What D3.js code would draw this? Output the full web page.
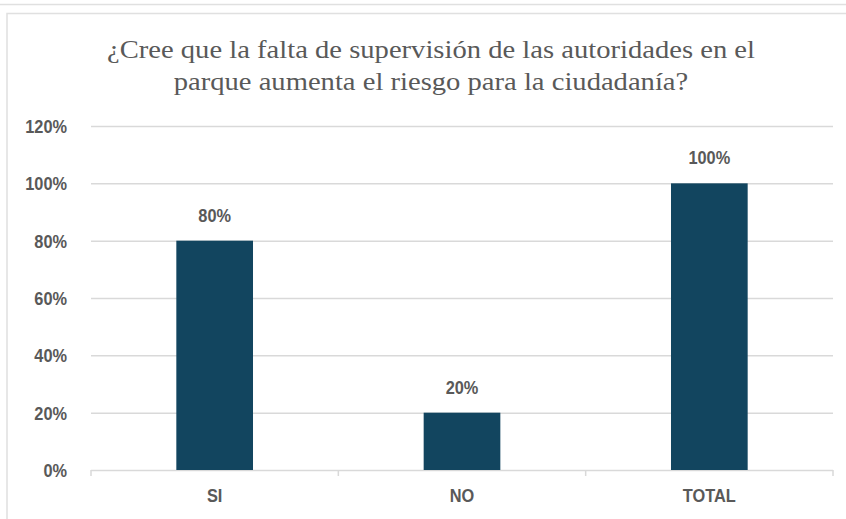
<!DOCTYPE html>
<html>
<head>
<meta charset="utf-8">
<script src="https://cdn.jsdelivr.net/npm/d3@7"></script>
<style>
  body { margin: 0; background: #fff; }
  svg { display: block; }
  .titulo { font-family: "Liberation Serif", "DejaVu Serif", "Times New Roman", Times, serif; }
</style>
</head>
<body>
<svg id="chart" width="846" height="519"></svg>
<script>
// datos
var categorias = ["SI", "NO", "TOTAL"];
var valores = [0.80, 0.20, 1.00];
var ticksY = [0, 0.2, 0.4, 0.6, 0.8, 1.0, 1.2];
var titulo = ["¿Cree que la falta de supervisión de las autoridades en el",
              "parque aumenta el riesgo para la ciudadanía?"];

var svg = d3.select("#chart");
var gris = "#595959", linea = "#d9d9d9", barra = "#12455f";
var fuente = "Liberation Sans, Arial, sans-serif";

// ajustar ancho del texto (la fuente original es tipo Arial Narrow)
function ajusta(f) {
  return function(sel) {
    sel.each(function() {
      var w = this.getComputedTextLength();
      d3.select(this).attr("textLength", w * f).attr("lengthAdjust", "spacingAndGlyphs");
    });
  };
}

// marcos
svg.append("rect").attr("x", -5).attr("y", -10).attr("width", 860).attr("height", 14.5)
  .attr("fill", "none").attr("stroke", "#e0e0e0").attr("stroke-width", 1.5);
svg.append("rect").attr("x", 7).attr("y", 13.5).attr("width", 850).attr("height", 520)
  .attr("fill", "#fff").attr("stroke", "#e0e0e0").attr("stroke-width", 1.5);

var margin = {top: 126, left: 91, right: 13, bottom: 49},
    width = 846 - margin.left - margin.right,
    height = 519 - margin.top - margin.bottom;
var g = svg.append("g").attr("transform", "translate(" + margin.left + "," + margin.top + ")");

var x = d3.scaleBand().domain(categorias).range([0, width]).paddingInner(0.69).paddingOuter(0.345);
var y = d3.scaleLinear().domain([0, 1.2]).range([height, 0]);

// titulo
svg.append("g").selectAll("text").data(titulo).enter().append("text")
  .attr("class", "titulo")
  .attr("x", 431).attr("y", function(d, i) { return 58 + i * 32; })
  .attr("text-anchor", "middle")
  .attr("font-size", 26).attr("fill", gris)
  .text(function(d) { return d; })
  .call(ajusta(1.1));

// eje y con rejilla
var yAxis = d3.axisLeft(y).tickValues(ticksY).tickSize(-width).tickPadding(24)
  .tickFormat(d3.format(".0%"));
g.append("g").call(yAxis).call(function(a) {
  a.select(".domain").remove();
  a.selectAll(".tick line").attr("stroke", linea).attr("stroke-width", 1.5);
  a.selectAll(".tick text").attr("fill", gris).attr("font-family", fuente)
    .attr("font-weight", "bold").attr("font-size", 19).attr("dy", "0.35em")
    .call(ajusta(0.86));
});

// eje x
var xAxis = d3.axisBottom(x).tickSize(0).tickPadding(19);
g.append("g").attr("transform", "translate(0," + height + ")").call(xAxis).call(function(a) {
  a.select(".domain").remove();
  a.selectAll(".tick text").attr("fill", gris).attr("font-family", fuente)
    .attr("font-weight", "bold").attr("font-size", 19).attr("dy", "0.71em")
    .call(ajusta(0.86));
});
// separadores del eje x
var bordes = [0].concat(categorias.map(function(c) { return x(c) + x.bandwidth() + x.step() * 0.345; }));
g.append("g").selectAll("line").data(bordes).enter().append("line")
  .attr("x1", function(d) { return d; }).attr("x2", function(d) { return d; })
  .attr("y1", height).attr("y2", height + 6)
  .attr("stroke", linea).attr("stroke-width", 1.5);

// barras
g.selectAll(".bar").data(valores).enter().append("rect")
  .attr("class", "bar")
  .attr("x", function(d, i) { return x(categorias[i]); })
  .attr("y", function(d) { return y(d); })
  .attr("width", x.bandwidth())
  .attr("height", function(d) { return height - y(d); })
  .attr("fill", barra);

// etiquetas de datos
g.selectAll(".lbl").data(valores).enter().append("text")
  .attr("class", "lbl")
  .attr("x", function(d, i) { return x(categorias[i]) + x.bandwidth() / 2; })
  .attr("y", function(d) { return y(d) - 19; })
  .attr("text-anchor", "middle")
  .attr("font-family", fuente).attr("font-weight", "bold").attr("font-size", 19)
  .attr("fill", gris)
  .text(function(d) { return d3.format(".0%")(d); })
  .call(ajusta(0.86));
</script>
</body>
</html>
